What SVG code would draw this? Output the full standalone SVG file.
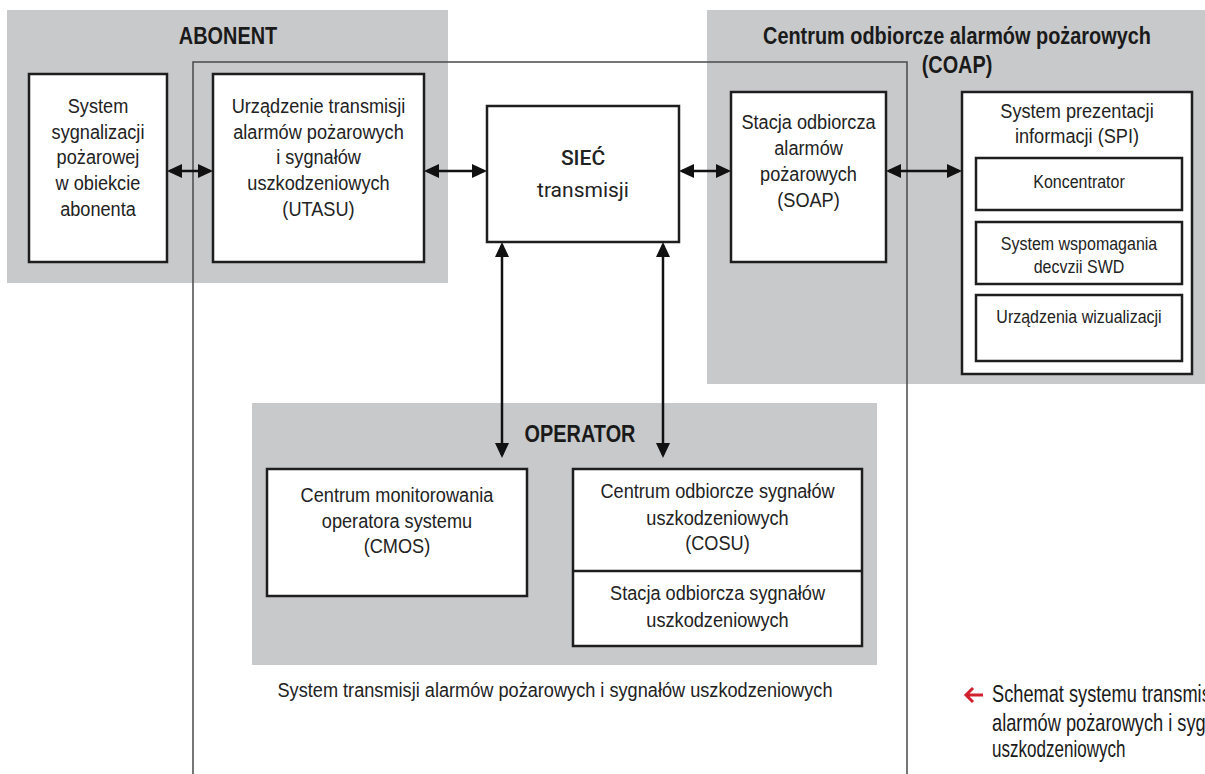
<svg xmlns="http://www.w3.org/2000/svg" width="1205" height="774" viewBox="0 0 1205 774">
<style>
.panel{fill:#c8c9cb}
.box{fill:#fff;stroke:#1e1e1e;stroke-width:2.5}
.bnd{fill:none;stroke:#4a4a4a;stroke-width:1.5}
.t{font-family:"Liberation Sans",Arial,sans-serif;font-size:21px;fill:#222;text-anchor:middle;transform-box:fill-box;transform-origin:center;transform:scaleX(0.865)}
.s{font-size:18.5px}
.h{font-family:"Liberation Sans",Arial,sans-serif;font-size:23px;font-weight:bold;fill:#1a1a1a;text-anchor:middle;transform-box:fill-box;transform-origin:center;transform:scaleX(0.865)}
.net{font-family:Roboto,"Liberation Sans",sans-serif;font-size:21px;fill:#222;text-anchor:middle}
.cap{font-family:"Liberation Sans",Arial,sans-serif;font-size:24px;fill:#1a1a1a;text-anchor:start;transform-box:fill-box;transform-origin:left center;transform:scaleX(0.76)}
.cap3{transform:scaleX(0.71)}
.con{stroke:#111;stroke-width:2.5;fill:none;marker-start:url(#ah);marker-end:url(#ah)}
</style>
<defs>
<marker id="ah" markerUnits="userSpaceOnUse" markerWidth="16" markerHeight="15" viewBox="0 0 16 15" refX="12" refY="7" orient="auto-start-reverse">
<path d="M0,0 L15,7 L0,14 z" fill="#111"/>
</marker>
</defs>

<g id="panels">
<rect class="panel" x="7" y="10" width="441" height="273"/>
<rect class="panel" x="707" y="10" width="498" height="374"/>
<rect class="panel" x="252" y="403" width="625" height="262"/>
<text class="h" x="228" y="44">ABONENT</text>
<text class="h" x="957" y="44">Centrum odbiorcze alarmów pożarowych</text>
<text class="h" x="957" y="73">(COAP)</text>
<text class="h" x="580" y="442">OPERATOR</text>
</g>

<g id="boundary">
<path class="bnd" d="M193,774 V62 H907 V774"/>
<text class="t" x="555" y="697">System transmisji alarmów pożarowych i sygnałów uszkodzeniowych</text>
</g>

<g id="ssp">
<rect class="box" x="29" y="74" width="138" height="188"/>
<text class="t" x="98" y="113">System</text>
<text class="t" x="98" y="139">sygnalizacji</text>
<text class="t" x="98" y="164">pożarowej</text>
<text class="t" x="98" y="190">w obiekcie</text>
<text class="t" x="98" y="216">abonenta</text>
</g>

<g id="utasu">
<rect class="box" x="213" y="74" width="211" height="188"/>
<text class="t" x="318.5" y="113">Urządzenie transmisji</text>
<text class="t" x="318.5" y="139">alarmów pożarowych</text>
<text class="t" x="318.5" y="164">i sygnałów</text>
<text class="t" x="318.5" y="190">uszkodzeniowych</text>
<text class="t" x="318.5" y="216">(UTASU)</text>
</g>

<g id="siec">
<rect class="box" x="487" y="106" width="192" height="136"/>
<text class="net" x="583" y="165" font-weight="500">SIEĆ</text>
<text class="net" x="583" y="197">transmisji</text>
</g>

<g id="soap">
<rect class="box" x="731" y="92" width="155" height="170"/>
<text class="t" x="808.5" y="129">Stacja odbiorcza</text>
<text class="t" x="808.5" y="155">alarmów</text>
<text class="t" x="808.5" y="181">pożarowych</text>
<text class="t" x="808.5" y="207">(SOAP)</text>
</g>

<g id="spi">
<rect class="box" x="962" y="92" width="230" height="282"/>
<text class="t" x="1077" y="118">System prezentacji</text>
<text class="t" x="1077" y="143">informacji (SPI)</text>
</g>

<g id="koncentrator">
<rect class="box" x="976" y="158" width="206" height="52"/>
<text class="t s" x="1079" y="188">Koncentrator</text>
</g>

<g id="swd">
<rect class="box" x="976" y="222" width="206" height="62"/>
<text class="t s" x="1079" y="250">System wspomagania</text>
<text class="t s" x="1079" y="273">decvzii SWD</text>
</g>

<g id="wizualizacja">
<rect class="box" x="976" y="295" width="206" height="66"/>
<text class="t s" x="1079" y="323">Urządzenia wizualizacji</text>
</g>

<g id="cmos">
<rect class="box" x="267" y="469" width="260" height="127"/>
<text class="t" x="397" y="502">Centrum monitorowania</text>
<text class="t" x="397" y="528">operatora systemu</text>
<text class="t" x="397" y="553">(CMOS)</text>
</g>

<g id="cosu">
<rect class="box" x="573" y="469" width="289" height="177"/>
<line x1="573" y1="571" x2="862" y2="571" stroke="#1e1e1e" stroke-width="2.5"/>
<text class="t" x="717.5" y="498">Centrum odbiorcze sygnałów</text>
<text class="t" x="717.5" y="525">uszkodzeniowych</text>
<text class="t" x="717.5" y="550">(COSU)</text>
<text class="t" x="717.5" y="600">Stacja odbiorcza sygnałów</text>
<text class="t" x="717.5" y="627">uszkodzeniowych</text>
</g>

<g id="connectors">
<line class="con" x1="170" y1="171" x2="210" y2="171"/>
<line class="con" x1="427" y1="171" x2="484" y2="171"/>
<line class="con" x1="682" y1="171" x2="728" y2="171"/>
<line class="con" x1="889" y1="171" x2="959" y2="171"/>
<line class="con" x1="502" y1="245" x2="502" y2="455"/>
<line class="con" x1="663" y1="245" x2="663" y2="455"/>
</g>

<g id="note">
<path d="M983,695 H966 M973,688 L966,695 L973,702" fill="none" stroke="#d3202f" stroke-width="3"/>
<text class="cap" x="992" y="702">Schemat systemu transmisji</text>
<text class="cap" x="992" y="731">alarmów pożarowych i sygnałów</text>
<text class="cap cap3" x="992" y="757">uszkodzeniowych</text>
</g>
</svg>
